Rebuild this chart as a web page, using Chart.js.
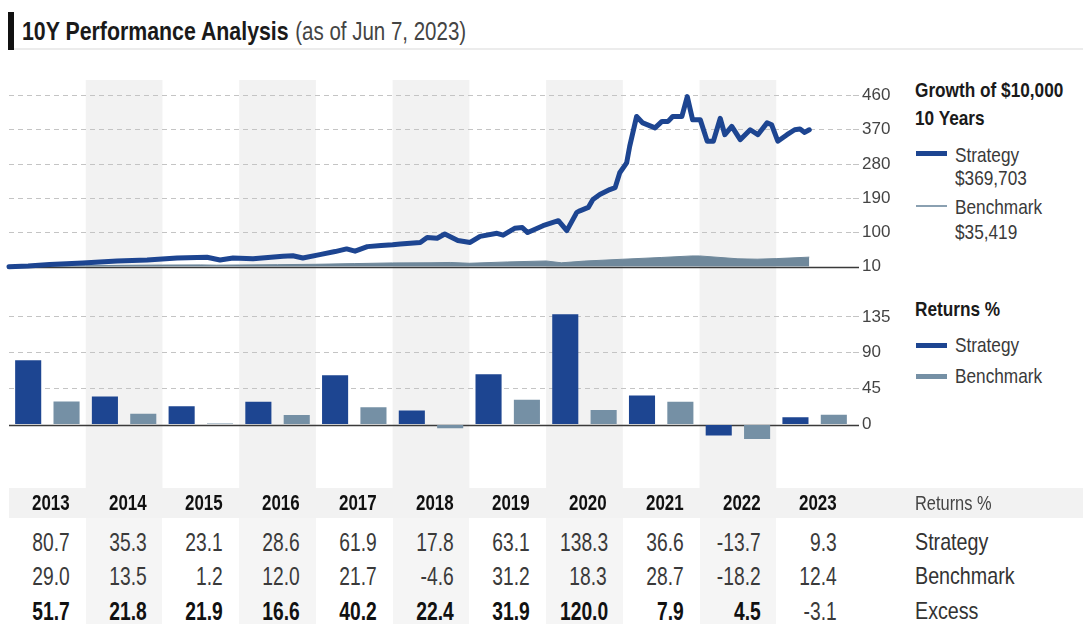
<!DOCTYPE html>
<html>
<head>
<meta charset="utf-8">
<title>10Y Performance Analysis</title>
<script src="https://cdn.jsdelivr.net/npm/chart.js@4.4.0/dist/chart.umd.min.js"></script>
<style>
  body { margin: 0; background: #fff; }
  #page {
    position: relative; width: 1083px; height: 624px; overflow: hidden;
    font-family: "Liberation Sans", Arial, sans-serif;
    color: #333;
  }
  .abs { position: absolute; white-space: nowrap; }
  /* condensed look: Liberation Sans squeezed horizontally */
  .narrow { transform: scaleX(0.82); transform-origin: left center; }
  .narrow-r { transform: scaleX(0.77); transform-origin: right center; }
  #titleBar { left: 8px; top: 12px; width: 6px; height: 38px; background: #111; }
  #title { left: 22px; top: 14px; line-height: 34px; font-size: 26px; font-weight: bold; color: #1a1a1a; }
  #title span { font-weight: normal; font-size: 25px; color: #444; margin-left: 8px; }
  #titleRule { left: 14px; top: 48px; width: 1069px; height: 2px; background: #ececec; }
  canvas { position: absolute; left: 0; }
  #growthChart { top: 80px; }
  #returnsChart { top: 280px; }
  .legend-head { font-size: 21px; font-weight: bold; color: #1a1a1a; line-height: 26px; }
  .legend-text { font-size: 21px; color: #3a3a3a; line-height: 24px; }
  .swatch { position: absolute; height: 5px; width: 31px; }
  .cell { position: absolute; text-align: right; line-height: 34px; white-space: nowrap; }
  .row-label { position: absolute; left: 915px; line-height: 34px; white-space: nowrap; color: #333; }
</style>
</head>
<body>
<div id="page">
  <div id="titleBar" class="abs"></div>
  <div id="title" class="abs narrow">10Y Performance Analysis<span>(as of Jun 7, 2023)</span></div>
  <div id="titleRule" class="abs"></div>

  <canvas id="growthChart" width="913" height="200"></canvas>
  <canvas id="returnsChart" width="913" height="208"></canvas>

  <!-- legend: growth of $10,000 -->
  <div class="abs narrow legend-head" style="left:915px; top:77px;">Growth of $10,000</div>
  <div class="abs narrow legend-head" style="left:915px; top:105px;">10 Years</div>
  <div class="swatch" style="left:916px; top:151px; background:#1d4591;"></div>
  <div class="abs narrow legend-text" style="left:955px; top:143px;">Strategy</div>
  <div class="abs narrow legend-text" style="left:955px; top:166px;">$369,703</div>
  <div class="swatch" style="left:916px; top:205px; height:2px; background:#8aa0b1;"></div>
  <div class="abs narrow legend-text" style="left:955px; top:195px;">Benchmark</div>
  <div class="abs narrow legend-text" style="left:955px; top:220px;">$35,419</div>

  <!-- legend: returns -->
  <div class="abs narrow legend-head" style="left:915px; top:296px;">Returns %</div>
  <div class="swatch" style="left:916px; top:343px; background:#1d4591;"></div>
  <div class="abs narrow legend-text" style="left:955px; top:333px;">Strategy</div>
  <div class="swatch" style="left:916px; top:374px; background:#7590a5;"></div>
  <div class="abs narrow legend-text" style="left:955px; top:364px;">Benchmark</div>

  <div id="returnsTable"></div>
</div>

<script>
// Calendar years and annual returns (%)
const years = ['2013', '2014', '2015', '2016', '2017', '2018', '2019', '2020', '2021', '2022', '2023'];
const strategyReturns = [80.7, 35.3, 23.1, 28.6, 61.9, 17.8, 63.1, 138.3, 36.6, -13.7, 9.3];
const benchmarkReturns = [29.0, 13.5, 1.2, 12.0, 21.7, -4.6, 31.2, 18.3, 28.7, -18.2, 12.4];
const excessReturns = [51.7, 21.8, 21.9, 16.6, 40.2, 22.4, 31.9, 120.0, 7.9, 4.5, -3.1];

// Growth of $10,000 (in $ thousands), dates as fractional years
const strategyDates = [
  2013.00, 2013.25, 2013.53, 2013.75, 2013.96, 2014.41, 2014.80, 2015.19, 2015.58, 2015.75,
  2015.92, 2016.18, 2016.57, 2016.70, 2016.83, 2017.05, 2017.25, 2017.40, 2017.51, 2017.67,
  2017.85, 2018.00, 2018.10, 2018.36, 2018.45, 2018.58, 2018.68, 2018.85, 2019.01, 2019.14,
  2019.36, 2019.44, 2019.59, 2019.69, 2019.76, 2019.96, 2020.16, 2020.27, 2020.40, 2020.44,
  2020.55, 2020.61, 2020.70, 2020.83, 2020.90, 2020.96, 2021.05, 2021.09, 2021.18, 2021.26,
  2021.42, 2021.51, 2021.59, 2021.65, 2021.77, 2021.84, 2021.91, 2022.01, 2022.10, 2022.18,
  2022.27, 2022.33, 2022.42, 2022.53, 2022.66, 2022.76, 2022.88, 2022.94, 2023.02, 2023.14,
  2023.24, 2023.31, 2023.37, 2023.43
];
const strategyGrowth = [
  10, 12, 16, 18, 20, 25, 28, 33, 35, 28,
  33, 31, 38, 39, 33, 42, 50, 57, 51, 63,
  66, 68, 70, 74, 87, 85, 96, 79, 74, 90,
  98, 93, 111, 113, 100, 118, 131, 105, 153, 157,
  166, 187, 200, 213, 218, 257, 283, 327, 405, 388,
  375, 392, 392, 405, 405, 457, 396, 396, 340, 340,
  400, 357, 379, 344, 370, 357, 388, 383, 340, 357,
  370, 372, 363, 370
];
const benchmarkDates = [
  2013.00, 2013.50, 2014.00, 2014.50, 2015.00, 2015.50, 2015.70, 2016.00, 2016.50, 2017.00,
  2017.50, 2018.00, 2018.50, 2018.75, 2019.00, 2019.50, 2020.00, 2020.20, 2020.50, 2021.00,
  2021.50, 2021.90, 2022.00, 2022.50, 2022.75, 2023.00, 2023.43
];
const benchmarkGrowth = [
  10, 11.3, 12.9, 13.8, 14.6, 15.0, 14.2, 14.8, 15.6, 16.6,
  18.4, 20.2, 20.6, 21.4, 19.3, 22.8, 25.3, 20.5, 25.0, 29.9,
  34.5, 38.5, 38.5, 31.0, 30.0, 31.5, 35.4
];

const growthTicks = [10, 100, 190, 280, 370, 460];
const returnTicks = [0, 45, 90, 135];

const STRATEGY_COLOR = '#1d4591';
const BENCHMARK_COLOR = '#7590a5';
const BENCHMARK_AREA = '#6f889b';
const BAND_COLOR = '#f2f2f2';
const GRID_COLOR = '#c4c4c4';
const FONT = '"Liberation Sans", Arial, sans-serif';

// Shaded columns for every other year, drawn behind everything
const yearBands = {
  id: 'yearBands',
  beforeDraw(chart) {
    const { ctx, chartArea, scales } = chart;
    const x = scales.x;
    const colW = chartArea.width / years.length;
    ctx.save();
    ctx.fillStyle = BAND_COLOR;
    years.forEach((y, i) => {
      if (i % 2 === 0) return;
      let left, right;
      if (x.type === 'linear') {
        left = x.getPixelForValue(+y);
        right = x.getPixelForValue(+y + 1);
      } else {
        left = x.getPixelForValue(i) - colW / 2;
        right = left + colW;
      }
      ctx.fillRect(left, 0, right - left, chart.height);
    });
    ctx.restore();
  }
};

// Solid zero line (or $10k start line) across the plot
const baseline = {
  id: 'baseline',
  beforeDatasetsDraw(chart, args, opts) {
    const { ctx, chartArea, scales } = chart;
    const y = Math.round(scales.y.getPixelForValue(opts.value)) + 0.5;
    ctx.save();
    ctx.strokeStyle = '#3a3a3a';
    ctx.lineWidth = 1.5;
    ctx.beginPath();
    ctx.moveTo(chartArea.left, y);
    ctx.lineTo(chartArea.right + 6, y);
    ctx.stroke();
    ctx.restore();
  }
};

function yAxis(min, max, ticks, zeroValue) {
  return {
    position: 'right',
    min: min,
    max: max,
    afterBuildTicks: s => { s.ticks = ticks.map(v => ({ value: v })); },
    afterFit: s => { s.width = 60; },
    grid: {
      color: c => (c.tick && c.tick.value === zeroValue) ? 'rgba(0,0,0,0)' : GRID_COLOR,
      lineWidth: 1,
      tickLength: 6
    },
    border: { display: false, dash: [5, 4] },
    ticks: { padding: 3, color: '#444', font: { family: FONT, size: 17 } }
  };
}

new Chart(document.getElementById('growthChart'), {
  type: 'line',
  data: {
    datasets: [
      {
        label: 'Strategy',
        data: strategyDates.map((t, i) => ({ x: t, y: strategyGrowth[i] })),
        borderColor: STRATEGY_COLOR,
        borderWidth: 5,
        borderJoinStyle: 'round',
        borderCapStyle: 'round',
        pointRadius: 0,
        fill: false,
        clip: false
      },
      {
        label: 'Benchmark',
        data: benchmarkDates.map((t, i) => ({ x: t, y: benchmarkGrowth[i] })),
        borderColor: BENCHMARK_AREA,
        backgroundColor: BENCHMARK_AREA,
        borderWidth: 1,
        pointRadius: 0,
        fill: { value: 10 }
      }
    ]
  },
  options: {
    responsive: false,
    animation: false,
    layout: { padding: { left: 9, top: 15.5, bottom: 12, right: 0 } },
    plugins: {
      legend: { display: false },
      tooltip: { enabled: false },
      baseline: { value: 10 }
    },
    scales: {
      x: { type: 'linear', min: 2013, max: 2024, display: false },
      y: yAxis(10, 460, growthTicks, 10)
    }
  },
  plugins: [yearBands, baseline]
});

new Chart(document.getElementById('returnsChart'), {
  type: 'bar',
  data: {
    labels: years,
    datasets: [
      { label: 'Strategy', data: strategyReturns, backgroundColor: STRATEGY_COLOR },
      { label: 'Benchmark', data: benchmarkReturns, backgroundColor: BENCHMARK_COLOR }
    ]
  },
  options: {
    responsive: false,
    animation: false,
    layout: { padding: { left: 9, top: 17, bottom: 0, right: 0 } },
    datasets: { bar: { categoryPercentage: 1.0, barPercentage: 0.68 } },
    plugins: {
      legend: { display: false },
      tooltip: { enabled: false },
      baseline: { value: 0 }
    },
    scales: {
      x: { display: false },
      y: yAxis(-63, 160, returnTicks, 0)
    }
  },
  plugins: [yearBands, baseline]
});

// Returns table under the bars, one column per year
const table = document.getElementById('returnsTable');
const colLeft = 9, colW = 844 / years.length;

function addDiv(style, text, className) {
  const d = document.createElement('div');
  if (className) d.className = className;
  Object.assign(d.style, style);
  if (text !== undefined) d.textContent = text;
  table.appendChild(d);
  return d;
}

// header strip and shaded year columns
addDiv({ position: 'absolute', left: colLeft + 'px', top: '488px', width: (1083 - colLeft) + 'px', height: '30px', background: BAND_COLOR });
years.forEach((y, i) => {
  if (i % 2 === 1) {
    addDiv({ position: 'absolute', left: (colLeft + i * colW) + 'px', top: '518px', width: colW + 'px', height: '106px', background: '#f5f5f5' });
  }
});

const rowCenters = [503, 542, 576, 611];
const rows = [
  { values: years, label: 'Returns %' },
  { values: strategyReturns.map(v => v.toFixed(1)), label: 'Strategy' },
  { values: benchmarkReturns.map(v => v.toFixed(1)), label: 'Benchmark' },
  { values: excessReturns.map(v => v.toFixed(1)), label: 'Excess' }
];

rows.forEach((row, r) => {
  const top = (rowCenters[r] - 17) + 'px';
  row.values.forEach((txt, i) => {
    const isHeader = r === 0;
    const bold = isHeader || (r === 3 && excessReturns[i] > 0);
    addDiv({
      left: (colLeft + i * colW) + 'px',
      top: top,
      width: (colW - 16) + 'px',
      fontSize: isHeader ? '22px' : '25px',
      fontWeight: bold ? 'bold' : 'normal',
      color: bold ? '#111' : '#3a3a3a'
    }, txt, 'cell narrow-r');
  });
  addDiv({
    top: top,
    fontSize: r === 0 ? '20px' : '24px',
    color: r === 0 ? '#444' : '#333'
  }, row.label, 'row-label narrow');
});
</script>
</body>
</html>
